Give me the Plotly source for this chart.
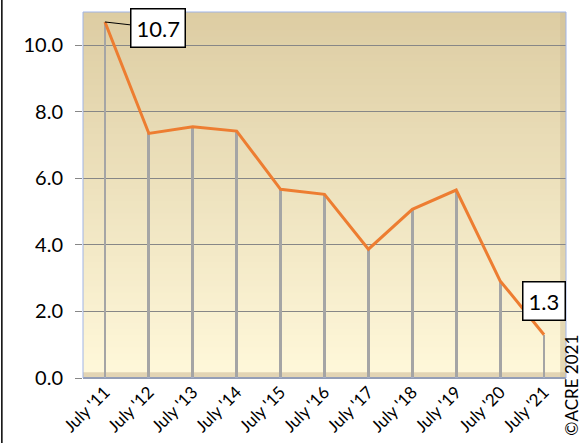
import plotly.graph_objects as go

years = ["July '11", "July '12", "July '13", "July '14", "July '15", "July '16",
         "July '17", "July '18", "July '19", "July '20", "July '21"]
values = [10.7, 7.35, 7.55, 7.42, 5.67, 5.52, 3.87, 5.07, 5.65, 2.92, 1.3]
y_ticks = [0, 2, 4, 6, 8, 10]

FONT = "Lato"

fig = go.Figure()

# gradient background built from thin horizontal bands (slightly overlapping)
n = 60
top = (221, 205, 163)
bottom = (255, 248, 218)
for i in range(n):
    t = i / (n - 1)
    c = tuple(round(top[k] + (bottom[k] - top[k]) * t) for k in range(3))
    fig.add_shape(type="rect", xref="paper", yref="paper",
                  x0=0, x1=1, y0=max(0, 1 - (i + 1.6) / n), y1=1 - i / n,
                  fillcolor="rgb(%d,%d,%d)" % c, line_width=0, layer="below")

# floor strip and right wall
fig.add_shape(type="rect", xref="paper", yref="paper", x0=0, x1=1, y0=0, y1=0.016,
              fillcolor="rgb(226,212,180)", line_width=0, layer="below")
fig.add_shape(type="rect", xref="paper", yref="paper", x0=0.988, x1=1, y0=0, y1=1,
              fillcolor="rgba(205,190,150,0.5)", line_width=0, layer="below")

# drop lines
fig.add_trace(go.Bar(
    x=years, y=values, width=0.065,
    marker=dict(color="rgb(165,165,165)", line_width=0),
    hoverinfo="skip", showlegend=False
))

fig.add_trace(go.Scatter(
    x=years, y=values, mode="lines",
    line=dict(color="rgb(237,125,49)", width=3),
    showlegend=False
))

fig.add_annotation(x=years[0], y=values[0], text="%.1f" % values[0],
                   showarrow=True, arrowhead=0, arrowwidth=1, arrowcolor="black",
                   ax=53, ay=6, bordercolor="black", borderwidth=1.5, borderpad=5,
                   bgcolor="white", font=dict(family=FONT, size=22, color="black"))
fig.add_annotation(x=years[-1], y=values[-1], text="%.1f" % values[-1],
                   showarrow=False, yshift=34, xshift=0,
                   bordercolor="black", borderwidth=1.5, borderpad=5,
                   bgcolor="white", font=dict(family=FONT, size=22, color="black"))

fig.add_annotation(xref="paper", yref="paper", x=1.011, y=-0.02, text="©ACRE 2021",
                   textangle=-90, showarrow=False, xanchor="center", yanchor="middle",
                   font=dict(family=FONT, size=17, color="black"))

# plot border and left frame line
fig.add_shape(type="rect", xref="paper", yref="paper", x0=0, x1=1, y0=0, y1=1,
              line=dict(color="rgb(160,180,230)", width=1), layer="above")
fig.add_shape(type="line", xref="paper", yref="paper", x0=-0.168, x1=-0.168, y0=-0.2, y1=1.05,
              line=dict(color="black", width=1.5))

fig.update_layout(
    width=582, height=443,
    margin=dict(l=83, r=16, t=12, b=65),
    paper_bgcolor="white", plot_bgcolor="rgba(0,0,0,0)",
    bargap=0, barmode="overlay",
    font=dict(family=FONT, color="black"),
    xaxis=dict(type="category", tickangle=-45, tickfont=dict(size=17),
               showgrid=False, showline=False, ticks="", range=[-0.5, 10.5],
               automargin=False),
    yaxis=dict(range=[0, 11], tickvals=y_ticks, tickformat=".1f",
               tickfont=dict(size=20), showgrid=True,
               gridcolor="rgb(135,135,135)", gridwidth=1,
               zeroline=True, zerolinecolor="rgb(135,135,135)",
               ticks="outside", ticklen=7, tickcolor="rgb(135,135,135)",
               ticklabelstandoff=8, automargin=False),
)

fig.write_html("out.html", config={"displayModeBar": False},
               post_script="document.body.style.margin='0';")
